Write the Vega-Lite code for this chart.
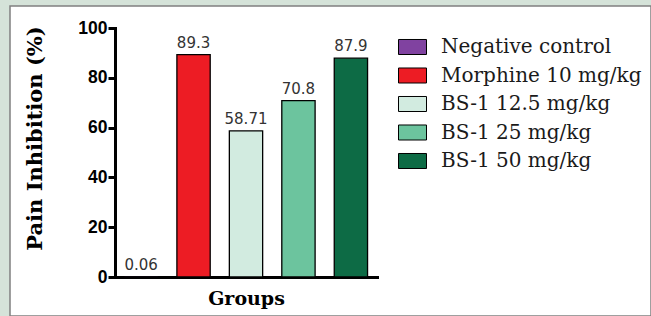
{
  "$schema": "https://vega.github.io/schema/vega-lite/v6.json",
  "width": 641,
  "height": 310,
  "autosize": {"type": "none"},
  "padding": {"left": 10, "top": 6, "right": 0, "bottom": 0},
  "background": "#d5e3d9",
  "config": {
    "view": {"fill": "white", "stroke": "#808080", "strokeWidth": 1.5}
  },
  "data": {
    "values": [
      {"group": "Negative control", "value": 0.06, "label": "0.06"},
      {"group": "Morphine 10 mg/kg", "value": 89.3, "label": "89.3"},
      {"group": "BS-1 12.5 mg/kg", "value": 58.71, "label": "58.71"},
      {"group": "BS-1 25 mg/kg", "value": 70.8, "label": "70.8"},
      {"group": "BS-1 50 mg/kg", "value": 87.9, "label": "87.9"}
    ]
  },
  "encoding": {
    "x": {
      "field": "group",
      "type": "nominal",
      "sort": null,
      "scale": {"range": [105, 367], "paddingInner": 0.365, "paddingOuter": 0.18},
      "axis": {
        "title": "Groups",
        "titleFont": "DejaVu Serif",
        "titleFontWeight": "bold",
        "titleFontSize": 19,
        "titleColor": "black",
        "titleBaseline": "alphabetic",
        "titleY": 27,
        "labels": false,
        "ticks": false,
        "domainColor": "black",
        "domainWidth": 3,
        "domainCap": "square",
        "offset": -39
      }
    },
    "y": {
      "field": "value",
      "type": "quantitative",
      "scale": {"domain": [0, 100], "nice": false, "range": [271, 22]},
      "axis": {
        "title": "Pain Inhibition (%)",
        "titleFont": "DejaVu Serif",
        "titleFontWeight": "bold",
        "titleFontSize": 21,
        "titleColor": "black",
        "titleAngle": -90,
        "titleBaseline": "middle",
        "titleAlign": "center",
        "titleX": -80,
        "titleY": 132,
        "values": [0, 20, 40, 60, 80, 100],
        "grid": false,
        "domainColor": "black",
        "domainWidth": 3,
        "domainCap": "square",
        "tickColor": "black",
        "tickWidth": 3,
        "tickSize": 7,
        "labelFont": "Liberation Sans",
        "labelFontWeight": "bold",
        "labelFontSize": 17.5,
        "labelColor": "black",
        "labelPadding": 1,
        "offset": -105
      }
    }
  },
  "layer": [
    {
      "mark": {"type": "bar", "stroke": "black", "strokeWidth": 1.3},
      "encoding": {
        "color": {
          "field": "group",
          "type": "nominal",
          "scale": {
            "domain": ["Negative control", "Morphine 10 mg/kg", "BS-1 12.5 mg/kg", "BS-1 25 mg/kg", "BS-1 50 mg/kg"],
            "range": ["#8042a0", "#ed1c24", "#d2ebe0", "#6cc49e", "#0d6b45"]
          },
          "legend": {
            "title": null,
            "orient": "none",
            "legendX": 388,
            "legendY": 26.5,
            "padding": 0,
            "symbolType": "M-1,-0.536H1V0.536H-1Z",
            "symbolSize": 784,
            "symbolStrokeColor": "black",
            "symbolStrokeWidth": 1,
            "symbolOpacity": 1,
            "rowPadding": 3.5,
            "labelOffset": 14,
            "labelFont": "DejaVu Serif",
            "labelFontSize": 20,
            "labelColor": "#1a1a1a",
            "labelLimit": 400
          }
        }
      }
    },
    {
      "mark": {"type": "text", "baseline": "alphabetic", "dy": -7, "font": "DejaVu Sans", "fontSize": 15, "color": "#333333"},
      "encoding": {
        "text": {"field": "label", "type": "nominal"}
      }
    }
  ]
}
